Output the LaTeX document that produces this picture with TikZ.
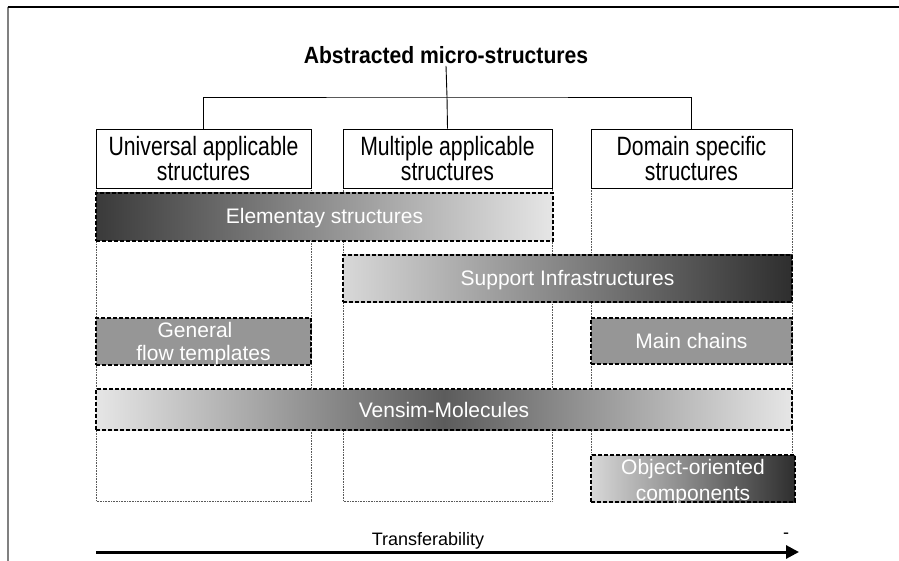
\documentclass[tikz,border=0pt]{standalone}
\usepackage{fontspec}
\setmainfont{Liberation Sans}
\newfontfamily\headfont{Liberation Sans}[FakeStretch=0.8]
\newfontfamily\titlefont{Liberation Sans}[FakeStretch=0.9]
\usetikzlibrary{arrows.meta}
\definecolor{barmid}{HTML}{969696}
\definecolor{bardark}{HTML}{3A3A3A}
\definecolor{bardarker}{HTML}{2E2E2E}
\definecolor{barlight}{HTML}{E6E6E6}
\definecolor{barpale}{HTML}{D8D8D8}
\definecolor{barcentre}{HTML}{5C5C5C}
\begin{document}
\begin{tikzpicture}[x=1pt,y=-1pt,
  headbox/.style={draw=black, line width=0.9pt, fill=white, inner sep=0pt,
    minimum width=#1, minimum height=59pt, align=center,
    font=\headfont\fontsize{26.5}{25}\selectfont},
  colframe/.style={draw=gray!70!black, line width=0.6pt, densely dotted},
  barbox/.style={draw=black, line width=1.3pt, dash pattern=on 4pt off 2pt,
    inner sep=0pt},
  bartext/.style={text=white, align=center, inner sep=0pt,
    font=\fontsize{21}{24}\selectfont},
  link/.style={draw=black, line width=0.9pt}]
\useasboundingbox (0,0) rectangle (899,561);

% outer frame (top and left edges)
\draw[gray, line width=2pt] (7.5,561) -- (7.5,7);
\draw[black, line width=1.2pt] (7.5,7) -- (899,7);

% column outlines
\draw[colframe] (96,188) rectangle (311,501);
\draw[colframe] (343,188) rectangle (552,501);
\draw[colframe] (591,188) rectangle (792,455);

% title and category boxes
\node[font=\titlefont\bfseries\fontsize{23.5}{26}\selectfont, inner sep=2pt] (title) at (446,55) {Abstracted micro-structures};
\node[headbox=215pt] (uni) at (203.5,158.5) {Universal applicable\\structures};
\node[headbox=209pt] (mul) at (447.5,158.5) {Multiple applicable\\structures};
\node[headbox=201pt] (dom) at (691.5,158.5) {Domain specific\\structures};

\coordinate (bus) at (447,97);
\draw[link] (title.south) -- (bus);
\draw[link] (uni.north) |- (bus) -| (dom.north);
\draw[link] (bus) -- (mul.north);

% structure bars
\node[barbox, left color=bardark, right color=barlight,
  minimum width=457pt, minimum height=48pt] (elem) at (324.5,217) {};
\node[barbox, left color=barpale, right color=bardarker,
  minimum width=449pt, minimum height=47pt] (supp) at (567.5,278.5) {};
\node[barbox, fill=barmid,
  minimum width=215pt, minimum height=47pt] (gen) at (203.5,341.5) {};
\node[barbox, fill=barmid,
  minimum width=201pt, minimum height=46pt] (main) at (691.5,341) {};
\node[barbox, left color=barlight, right color=barlight, middle color=barcentre,
  minimum width=696pt, minimum height=41pt] (vens) at (444,409.5) {};
\node[barbox, left color=barpale, right color=bardarker,
  minimum width=204pt, minimum height=47pt] (obj) at (693,478.5) {};

% bar labels
\node[bartext] (elemtext) at ([yshift=-1.5pt]elem.center) {Elementay structures};
\node[bartext] (supptext) at ([yshift=-2pt]supp.center) {Support Infrastructures};
\node[bartext, font=\fontsize{21}{23}\selectfont] (gentext) at ([yshift=-2.5pt]gen.center) {General\hspace*{17pt}\\flow templates};
\node[bartext] (maintext) at (main.center) {Main chains};
\node[bartext] (venstext) at (vens.center) {Vensim-Molecules};
\node[bartext, font=\fontsize{21}{26}\selectfont] (objtext) at ([yshift=-3.5pt]obj.center) {Object-oriented\\components};

% transferability axis
\coordinate (axl) at (96,552);
\coordinate (axr) at (799,552);
\draw[line width=3pt, -{Triangle[length=13pt, width=13pt]}] (axl) -- (axr);
\node[font=\fontsize{18}{20}\selectfont, inner sep=0pt] (axlabel) at (428,541) {Transferability};
\node[font=\fontsize{18}{20}\selectfont, inner sep=0pt] (axend) at (786,536) {-};
\end{tikzpicture}
\end{document}
